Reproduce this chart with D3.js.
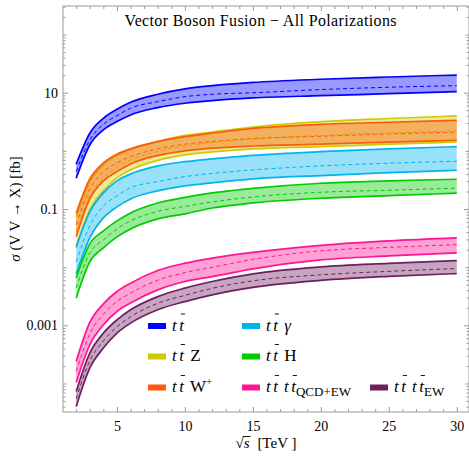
<!DOCTYPE html>
<html>
<head>
<meta charset="utf-8">
<script src="https://cdn.jsdelivr.net/npm/d3@7"></script>
<style>
  html, body { margin: 0; padding: 0; background: #fff; }
  svg { display: block; font-family: "Liberation Serif", "Times New Roman", serif; }
</style>
</head>
<body>
<svg id="chart" width="469" height="458"></svg>
<script>
'use strict';

const sqrtS = [2, 3, 4, 5, 6, 8, 10, 12, 15, 20, 25, 30];

// cross sections in fb: upper edge, central (dashed), lower edge
const ttHi  = [0.589, 2.01, 3.63, 5.19, 6.84, 9.39, 11.6, 13.2, 15.0, 17.0, 18.6, 20.1];
const ttMid = [0.439, 1.54, 2.86, 4.03, 5.40, 7.00, 8.54, 9.39, 9.96, 11.3, 12.4, 13.2];
const ttLo  = [0.338, 1.26, 2.29, 3.18, 4.14, 5.52, 6.57, 7.29, 8.11, 8.88, 9.61, 10.4];

const ttZHi  = [0.0731, 0.292, 0.573, 0.834, 1.06, 1.45, 1.84, 2.11, 2.57, 3.18, 3.60, 3.98];
const ttZMid = [0.0404, 0.168, 0.342, 0.528, 0.698, 0.977, 1.21, 1.39, 1.60, 1.84, 2.03, 2.20];
const ttZLo  = [0.0215, 0.0966, 0.205, 0.342, 0.470, 0.684, 0.851, 0.957, 1.08, 1.18, 1.30, 1.42];

const ttWHi  = [0.0847, 0.329, 0.620, 0.875, 1.08, 1.44, 1.75, 2.01, 2.43, 2.86, 3.10, 3.33];
const ttWMid = [0.0533, 0.221, 0.434, 0.620, 0.794, 1.08, 1.30, 1.45, 1.63, 1.78, 1.95, 2.09];
const ttWLo  = [0.0336, 0.149, 0.304, 0.439, 0.596, 0.828, 0.996, 1.11, 1.21, 1.30, 1.41, 1.52];

const ttAHi  = [0.0226, 0.0891, 0.189, 0.304, 0.401, 0.551, 0.652, 0.726, 0.834, 0.968, 1.08, 1.18];
const ttAMid = [0.0123, 0.0513, 0.113, 0.168, 0.231, 0.296, 0.360, 0.409, 0.470, 0.551, 0.612, 0.662];
const ttALo  = [0.00767, 0.0319, 0.0703, 0.109, 0.149, 0.205, 0.249, 0.281, 0.329, 0.375, 0.422, 0.464];

const ttHHi  = [0.00655, 0.0251, 0.0421, 0.0625, 0.0857, 0.127, 0.158, 0.189, 0.226, 0.277, 0.304, 0.325];
const ttHMid = [0.00441, 0.0176, 0.0294, 0.0455, 0.0625, 0.0910, 0.111, 0.132, 0.161, 0.194, 0.210, 0.228];
const ttHLo  = [0.00293, 0.0123, 0.0215, 0.0332, 0.0455, 0.0676, 0.0824, 0.104, 0.127, 0.153, 0.170, 0.187];

const ttttHi  = [2.39e-4, 1.12e-3, 2.34e-3, 3.81e-3, 5.31e-3, 8.75e-3, 0.0117, 0.0143, 0.0180, 0.0237, 0.0283, 0.0319];
const ttttMid = [1.61e-4, 7.14e-4, 1.55e-3, 2.56e-3, 3.57e-3, 5.98e-3, 8.07e-3, 9.93e-3, 0.0136, 0.0191, 0.0219, 0.0244];
const ttttLo  = [1.04e-4, 4.62e-4, 1.02e-3, 1.73e-3, 2.41e-3, 4.07e-3, 5.66e-3, 6.89e-3, 9.35e-3, 0.0133, 0.0156, 0.0176];

const ttttEwHi  = [7.29e-5, 3.33e-4, 7.35e-4, 1.24e-3, 1.85e-3, 3.12e-3, 4.36e-3, 5.66e-3, 7.67e-3, 0.0101, 0.0116, 0.0130];
const ttttEwMid = [5.46e-5, 2.45e-4, 5.42e-4, 9.42e-4, 1.40e-3, 2.39e-3, 3.27e-3, 4.32e-3, 5.82e-3, 7.38e-3, 8.47e-3, 9.46e-3];
const ttttEwLo  = [4.03e-5, 1.84e-4, 4.06e-4, 7.35e-4, 1.09e-3, 1.85e-3, 2.56e-3, 3.34e-3, 4.50e-3, 5.93e-3, 6.95e-3, 7.76e-3];

const xTicks = [5, 10, 15, 20, 25, 30];
const yTicks = [10, 0.1, 0.001];
const yTickLabels = ['10', '0.1', '0.001'];

const series = [
    { color: '#0000ff', hi: ttHi, mid: ttMid, lo: ttLo },
    { color: '#cccc00', hi: ttZHi, mid: ttZMid, lo: ttZLo },
    { color: '#ff5a0a', hi: ttWHi, mid: ttWMid, lo: ttWLo },
    { color: '#00b4ee', hi: ttAHi, mid: ttAMid, lo: ttALo },
    { color: '#00cc00', hi: ttHHi, mid: ttHMid, lo: ttHLo },
    { color: '#ff1493', hi: ttttHi, mid: ttttMid, lo: ttttLo },
    { color: '#6e1f60', hi: ttttEwHi, mid: ttttEwMid, lo: ttttEwLo }
];

// legend labels, t with bar = antitop
const T = { t: 't', it: true };
const TB = { t: 't', it: true, bar: true, dx: 2.5 };
const legendItems = [
    { s: 0, col: 0, row: 0, parts: [T, TB] },
    { s: 1, col: 0, row: 1, parts: [T, TB, { t: ' Z', dx: 2 }] },
    { s: 2, col: 0, row: 2, parts: [T, TB, { t: ' W', dx: 2 }, { t: '+', sup: true }] },
    { s: 3, col: 1, row: 0, parts: [T, TB, { t: ' γ', it: true, dx: 2 }] },
    { s: 4, col: 1, row: 1, parts: [T, TB, { t: ' H', dx: 2 }] },
    { s: 5, col: 1, row: 2, parts: [T, TB, { t: 't', it: true, dx: 6 }, TB, { t: 'QCD+EW', sub: true }] },
    { s: 6, col: 2, row: 2, parts: [T, TB, { t: 't', it: true, dx: 6 }, TB, { t: 'EW', sub: true }] }
];

const svg = d3.select('#chart');
const plot = { left: 63, right: 469, top: 6, bottom: 412 };

const x = d3.scaleLinear().domain([1.03, 30.9]).range([plot.left, plot.right]);
const y = d3.scaleLog().domain([Math.pow(10, -4.49), Math.pow(10, 2.49)]).range([plot.bottom, plot.top]);

svg.append('defs').append('clipPath').attr('id', 'clip')
    .append('rect')
    .attr('x', plot.left).attr('y', plot.top)
    .attr('width', plot.right - plot.left).attr('height', plot.bottom - plot.top);

const bands = svg.append('g').attr('clip-path', 'url(#clip)');

const idx = d3.range(sqrtS.length);
const curve = d3.curveMonotoneX;

series.forEach(s => {
    const area = d3.area()
        .x(i => x(sqrtS[i]))
        .y0(i => y(s.lo[i]))
        .y1(i => y(s.hi[i]))
        .curve(curve);
    const line = arr => d3.line().x(i => x(sqrtS[i])).y(i => y(arr[i])).curve(curve)(idx);

    bands.append('path')
        .attr('d', area(idx))
        .attr('fill', s.color)
        .attr('fill-opacity', 0.4);
    bands.append('path')
        .attr('d', line(s.mid))
        .attr('fill', 'none')
        .attr('stroke', s.color)
        .attr('stroke-width', 1)
        .attr('stroke-dasharray', '4,3');
    [s.hi, s.lo].forEach(arr => {
        bands.append('path')
            .attr('d', line(arr))
            .attr('fill', 'none')
            .attr('stroke', s.color)
            .attr('stroke-width', 1.7);
    });
});

// frame and ticks
const axisColor = '#9a9a9a';
const minorX = d3.range(2, 31).filter(v => xTicks.indexOf(v) < 0);
const minorY = [];
for (let e = -5; e <= 2; e++) {
    for (let k = 1; k <= 9; k++) {
        const v = k * Math.pow(10, e);
        if (v > y.domain()[0] && v < y.domain()[1] && yTicks.indexOf(+v.toPrecision(3)) < 0) minorY.push(v);
    }
}

const styleAxis = g => {
    g.select('.domain').remove();
    g.selectAll('.tick line').attr('stroke', axisColor);
    g.selectAll('.tick text').attr('fill', '#000').attr('font-family', '"Liberation Serif", serif');
};

svg.append('g').attr('transform', `translate(0,${plot.bottom})`)
    .call(d3.axisBottom(x).tickValues(minorX).tickSize(-3).tickFormat(''))
    .call(styleAxis);
svg.append('g').attr('transform', `translate(0,${plot.bottom})`)
    .call(d3.axisBottom(x).tickValues(xTicks).tickSize(-5).tickPadding(9).tickFormat(d3.format('d')))
    .call(styleAxis)
    .selectAll('text').attr('font-size', 14);
svg.append('g').attr('transform', `translate(0,${plot.top})`)
    .call(d3.axisTop(x).tickValues(minorX).tickSize(-3).tickFormat(''))
    .call(styleAxis);
svg.append('g').attr('transform', `translate(0,${plot.top})`)
    .call(d3.axisTop(x).tickValues(xTicks).tickSize(-5).tickFormat(''))
    .call(styleAxis);

const decades = minorY.filter(v => Math.abs(Math.log10(v) - Math.round(Math.log10(v))) < 1e-6);
const small = minorY.filter(v => decades.indexOf(v) < 0);
[[plot.left, d3.axisLeft, 1], [plot.right, d3.axisRight, 0]].forEach(([px, ax, lab]) => {
    svg.append('g').attr('transform', `translate(${px},0)`)
        .call(ax(y).tickValues(small).tickSize(-2.5).tickFormat(''))
        .call(styleAxis);
    svg.append('g').attr('transform', `translate(${px},0)`)
        .call(ax(y).tickValues(decades).tickSize(-3.5).tickFormat(''))
        .call(styleAxis);
    svg.append('g').attr('transform', `translate(${px},0)`)
        .call(ax(y).tickValues(yTicks).tickSize(-5).tickPadding(5)
            .tickFormat((d, i) => lab ? yTickLabels[i] : ''))
        .call(styleAxis)
        .selectAll('text').attr('font-size', 14);
});

svg.append('rect')
    .attr('x', plot.left).attr('y', plot.top)
    .attr('width', plot.right - plot.left).attr('height', plot.bottom - plot.top)
    .attr('fill', 'none').attr('stroke', axisColor).attr('stroke-width', 1);

// title
svg.append('text')
    .attr('x', 260.5).attr('y', 26)
    .attr('text-anchor', 'middle')
    .attr('font-size', 16)
    .attr('textLength', 272)
    .attr('lengthAdjust', 'spacing')
    .text('Vector Boson Fusion \u2212 All Polarizations');

// y label
const yl = svg.append('text')
    .attr('transform', 'translate(20,209) rotate(-90)')
    .attr('text-anchor', 'middle')
    .attr('font-size', 15);
yl.append('tspan').attr('font-style', 'italic').text('σ');
yl.append('tspan').text(' (V V \u2192 X) [fb]');

// x label
const xl = svg.append('text')
    .attr('x', 266).attr('y', 448)
    .attr('text-anchor', 'middle')
    .attr('font-size', 15);
xl.append('tspan').text('\u221A');
xl.append('tspan').attr('font-style', 'italic').text('s');
xl.append('tspan').attr('dx', 4).text(' [TeV ]');
{
    const n = xl.node();
    const r = n.getExtentOfChar(0), s = n.getExtentOfChar(1);
    svg.append('line')
        .attr('x1', r.x + r.width - 1).attr('x2', s.x + s.width + 1)
        .attr('y1', r.y + 1.5).attr('y2', r.y + 1.5)
        .attr('stroke', '#000').attr('stroke-width', 0.9);
}

// legend
const legCols = [148, 242, 370];
const legRows = [326, 356.5, 387.5];
const legend = svg.append('g');
legendItems.forEach(item => {
    const cx = legCols[item.col], cy = legRows[item.row];
    legend.append('rect')
        .attr('x', cx).attr('y', cy - 3)
        .attr('width', 18).attr('height', 6)
        .attr('fill', series[item.s].color);
    const txt = legend.append('text')
        .attr('x', cx + 24).attr('y', cy + 4.5)
        .attr('font-size', 17);
    const bars = [];
    let ci = 0;
    item.parts.forEach(p => {
        const ts = txt.append('tspan').text(p.t);
        if (p.it) ts.attr('font-style', 'italic');
        if (p.dx) ts.attr('dx', p.dx);
        if (p.sub) ts.attr('font-size', 13).attr('dy', 4);
        if (p.sup) ts.attr('font-size', 11).attr('dy', -7);
        if (p.bar) bars.push(ci);
        ci += p.t.length;
    });
    const node = txt.node();
    bars.forEach(c => {
        const e = node.getExtentOfChar(c);
        legend.append('line')
            .attr('x1', e.x + 1.5).attr('x2', e.x + e.width + 1)
            .attr('y1', cy - 12).attr('y2', cy - 12)
            .attr('stroke', '#000').attr('stroke-width', 0.9);
    });
});
</script>
</body>
</html>
